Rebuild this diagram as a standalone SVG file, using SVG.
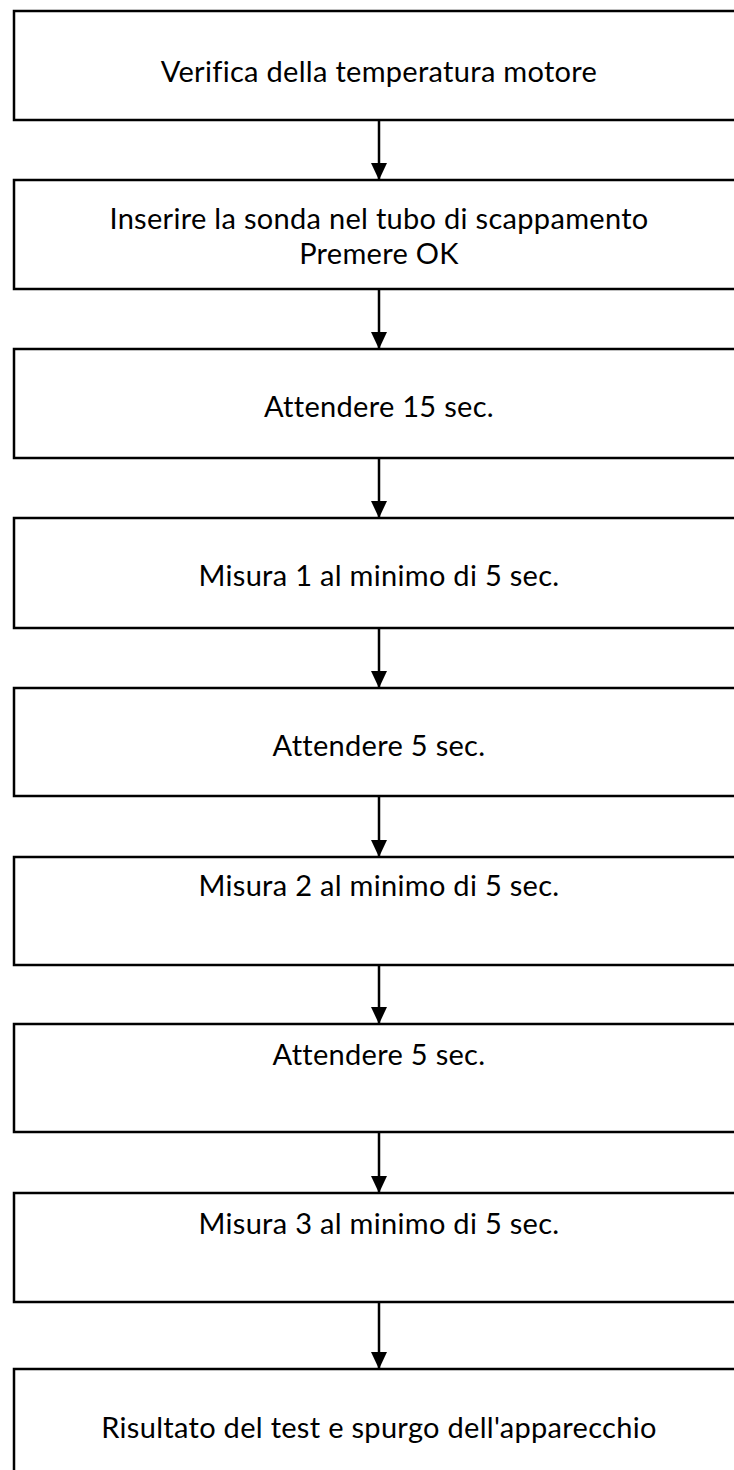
<svg xmlns="http://www.w3.org/2000/svg" width="734" height="1470" viewBox="0 0 734 1470">
<style>
.box{fill:#fff;stroke:#000;stroke-width:2.5}
.t{font-family:Lato,"Open Sans",sans-serif;font-size:29px;fill:#000;text-anchor:middle;font-variant-ligatures:none;letter-spacing:0.3px}
.c{stroke:#000;stroke-width:2.5;fill:none;marker-end:url(#ah)}
</style>
<defs>
<marker id="ah" markerWidth="17" markerHeight="16" refX="17" refY="8" orient="auto" markerUnits="userSpaceOnUse" viewBox="0 0 17 16">
<path d="M0,0 L17,8 L0,16 Z" fill="#000"/>
</marker>
</defs>
<rect width="734" height="1470" fill="#fff"/>
<g id="n1"><rect class="box" x="14" y="11" width="730" height="109"/><text class="t" x="379" y="82">Verifica della temperatura motore</text></g>
<g id="n2"><rect class="box" x="14" y="180" width="730" height="109"/><text class="t" x="379" y="229"><tspan x="379" y="229">Inserire la sonda nel tubo di scappamento</tspan><tspan x="379" y="264">Premere OK</tspan></text></g>
<g id="n3"><rect class="box" x="14" y="349" width="730" height="109"/><text class="t" x="379" y="417">Attendere 15 sec.</text></g>
<g id="n4"><rect class="box" x="14" y="518" width="730" height="110"/><text class="t" x="379" y="586">Misura 1 al minimo di 5 sec.</text></g>
<g id="n5"><rect class="box" x="14" y="688" width="730" height="108"/><text class="t" x="379" y="756">Attendere 5 sec.</text></g>
<g id="n6"><rect class="box" x="14" y="857" width="730" height="108"/><text class="t" x="379" y="896">Misura 2 al minimo di 5 sec.</text></g>
<g id="n7"><rect class="box" x="14" y="1024" width="730" height="108"/><text class="t" x="379" y="1065">Attendere 5 sec.</text></g>
<g id="n8"><rect class="box" x="14" y="1193" width="730" height="109"/><text class="t" x="379" y="1234">Misura 3 al minimo di 5 sec.</text></g>
<g id="n9"><rect class="box" x="14" y="1369" width="730" height="110"/><text class="t" x="379" y="1438">Risultato del test e spurgo dell'apparecchio</text></g>
<g id="connectors">
<line class="c" x1="379" y1="121" x2="379" y2="180"/>
<line class="c" x1="379" y1="290" x2="379" y2="349"/>
<line class="c" x1="379" y1="459" x2="379" y2="518"/>
<line class="c" x1="379" y1="629" x2="379" y2="688"/>
<line class="c" x1="379" y1="797" x2="379" y2="857"/>
<line class="c" x1="379" y1="966" x2="379" y2="1024"/>
<line class="c" x1="379" y1="1133" x2="379" y2="1193"/>
<line class="c" x1="379" y1="1303" x2="379" y2="1369"/>
</g>
</svg>
